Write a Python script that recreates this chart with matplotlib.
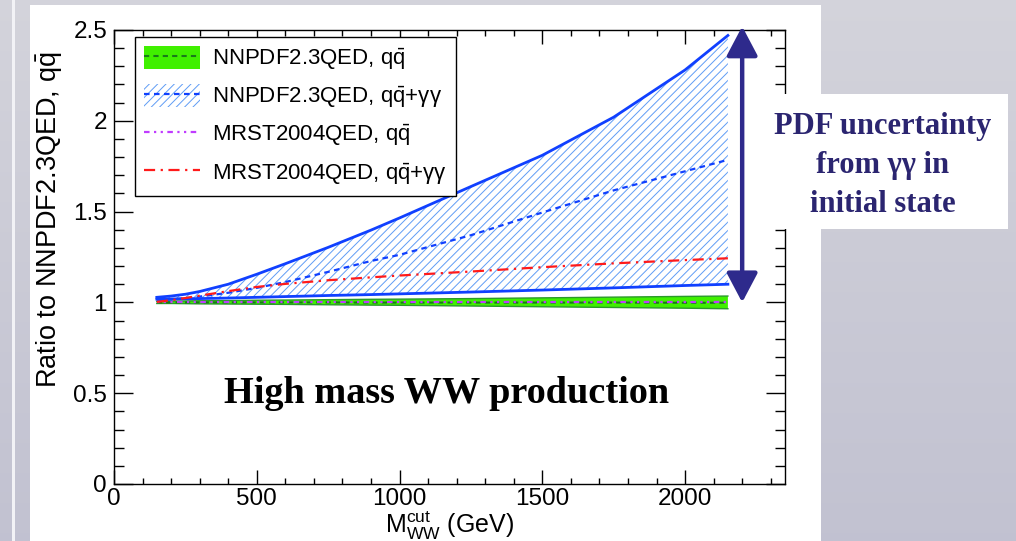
import matplotlib
matplotlib.use("Agg")
import matplotlib.pyplot as plt
import numpy as np
from matplotlib.patches import Rectangle, Patch
from matplotlib.lines import Line2D

plt.rcParams['font.family'] = ['Liberation Sans', 'DejaVu Sans']
plt.rcParams['mathtext.fontset'] = 'custom'
plt.rcParams['mathtext.rm'] = 'Liberation Sans'
plt.rcParams['mathtext.it'] = 'Liberation Sans:italic'
plt.rcParams['mathtext.bf'] = 'Liberation Sans:bold'
plt.rcParams['hatch.linewidth'] = 0.7

# ---------------- data ----------------
mww = [150, 200, 250, 300, 400, 500, 600, 750, 900, 1000, 1250, 1500, 1750, 2000, 2150]
nn_qq_central = [1.000, 1.000, 1.000, 1.000, 1.000, 1.000, 1.000, 1.000, 0.999, 0.999, 0.999, 0.999, 0.999, 0.998, 0.998]
nn_qq_up = [1.006, 1.007, 1.008, 1.009, 1.010, 1.012, 1.013, 1.015, 1.017, 1.018, 1.021, 1.025, 1.029, 1.033, 1.035]
nn_qq_dn = [0.994, 0.994, 0.993, 0.992, 0.991, 0.990, 0.989, 0.987, 0.985, 0.984, 0.980, 0.976, 0.972, 0.968, 0.965]
nn_gg_central = [1.010, 1.016, 1.023, 1.032, 1.053, 1.080, 1.112, 1.168, 1.228, 1.262, 1.370, 1.495, 1.617, 1.722, 1.785]
nn_gg_up = [1.028, 1.035, 1.045, 1.060, 1.100, 1.155, 1.213, 1.303, 1.398, 1.465, 1.638, 1.810, 2.020, 2.280, 2.470]
nn_gg_dn = [1.018, 1.019, 1.020, 1.021, 1.024, 1.028, 1.032, 1.038, 1.043, 1.047, 1.057, 1.068, 1.080, 1.093, 1.100]
mrst_qq = [1.000, 1.000, 1.000, 1.000, 1.000, 1.000, 1.000, 1.000, 1.000, 1.000, 1.000, 1.000, 1.000, 1.000, 1.000]
mrst_gg = [1.003, 1.012, 1.024, 1.037, 1.062, 1.085, 1.102, 1.122, 1.138, 1.148, 1.170, 1.194, 1.215, 1.233, 1.243]

legend_labels = ['NNPDF2.3QED, $\\mathrm{q\\bar{q}}$',
                 'NNPDF2.3QED, $\\mathrm{q\\bar{q}}$+γγ',
                 'MRST2004QED, $\\mathrm{q\\bar{q}}$',
                 'MRST2004QED, $\\mathrm{q\\bar{q}}$+γγ']
xticks = [0, 500, 1000, 1500, 2000]
xticklabels = ['0', '500', '1000', '1500', '2000']
yticks = [0, 0.5, 1, 1.5, 2, 2.5]
yticklabels = ['0', '0.5', '1', '1.5', '2', '2.5']
arrow_x = 2200
arrow_span = (1.0, 2.52)
note_lines = ['PDF uncertainty', 'from γγ in', 'initial state']

# ---------------- colours ----------------
c_blue = '#1040ff'
c_hatch = '#5f9cf5'
c_green = '#40f000'
c_green_edge = '#2a9a2a'
c_green_line = '#1a7a1a'
c_red = '#ff1a1a'
c_mag = '#c03cff'
c_navy = '#2e2a8c'
c_text = '#2b2570'

W, H = 1016, 541
fig = plt.figure(figsize=(W / 100, H / 100), dpi=100)

# background
bg = fig.add_axes([0, 0, 1, 1], zorder=-10)
top = np.array([0.83, 0.83, 0.86])
bot = np.array([0.76, 0.76, 0.82])
t = np.linspace(0, 1, 200)[:, None, None]
grad = top * (1 - t) + bot * t
bg.imshow(grad, extent=[0, W, H, 0], aspect='auto', origin='upper')
bg.add_patch(Rectangle((12, 0), 3, H, color='#f2f2f6', lw=0))
bg.add_patch(Rectangle((30, 5), 821 - 30, H - 5, color='white', lw=0))
bg.set_xlim(0, W)
bg.set_ylim(H, 0)
bg.axis('off')

# main axes
ax = fig.add_axes([114 / W, 57 / H, (785 - 114) / W, (484 - 30) / H])
ax.set_facecolor('white')

ax.fill_between(mww, nn_gg_dn, nn_gg_up, facecolor='none', edgecolor=c_hatch,
                hatch='////', linewidth=0, zorder=1)
ax.plot(mww, nn_gg_up, color=c_blue, lw=2, zorder=3)
ax.plot(mww, nn_gg_dn, color=c_blue, lw=2, zorder=3)
ax.plot(mww, nn_gg_central, color=c_blue, lw=1.6, ls=(0, (2.5, 2)), zorder=3)
ax.fill_between(mww, nn_qq_dn, nn_qq_up, facecolor=c_green, edgecolor='none', zorder=2)
ax.plot(mww, nn_qq_up, color=c_green_edge, lw=1, zorder=2.5)
ax.plot(mww, nn_qq_dn, color=c_green_edge, lw=1, zorder=2.5)
ax.plot(mww, nn_qq_central, color=c_green_line, lw=1.5, ls=(0, (2.5, 2)), zorder=3)
ax.plot(mww, mrst_qq, color=c_mag, lw=1.6, ls=(1.5, (2.5, 2, 1, 2, 1, 2)), zorder=4)
ax.plot(mww, mrst_gg, color=c_red, lw=1.6, ls=(0, (5, 2.5, 1, 2.5)), zorder=4)

ax.set_xlim(0, 2350)
ax.set_ylim(0, 2.5)
ax.set_xticks(xticks, xticklabels)
ax.set_yticks(yticks, yticklabels)
ax.set_xticks(np.arange(0, 2351, 100), minor=True)
ax.set_yticks(np.arange(0, 2.51, 0.1), minor=True)
ax.tick_params(which='both', direction='in', top=True, right=True, width=1,
               labelsize=17.5, color='black')
ax.tick_params(axis='y', which='major', length=13.7, pad=5)
ax.tick_params(axis='y', which='minor', length=7.2)
ax.tick_params(axis='x', which='major', length=10, pad=3)
ax.tick_params(axis='x', which='minor', length=4.5)
for s in ax.spines.values():
    s.set_linewidth(1.0)

ax.text(-0.096, 0.952, 'Ratio to NNPDF2.3QED, $\\mathrm{q\\bar{q}}$', rotation=90,
        transform=ax.transAxes, ha='center', va='top', fontsize=19.5)
ax.text(0.5, -0.055, 'M$_{\\mathrm{WW}}^{\\mathrm{cut}}$ (GeV)', transform=ax.transAxes,
        ha='center', va='top', fontsize=18)

# legend
handles = [
    (Patch(facecolor=c_green, edgecolor='none'), Line2D([], [], color=c_green_line, lw=1.5, ls=(0, (2.5, 2)))),
    (Patch(facecolor='white', edgecolor=c_hatch, hatch='////', lw=0), Line2D([], [], color=c_blue, lw=1.6, ls=(0, (2.5, 2)))),
    Line2D([], [], color=c_mag, lw=1.6, ls=(0, (2.5, 2, 1, 2, 1, 2))),
    Line2D([], [], color=c_red, lw=1.6, ls=(0, (5, 2.5, 1, 2.5))),
]
leg = ax.legend(handles, legend_labels, loc='upper left', bbox_to_anchor=(0.0313, 0.9846),
                borderaxespad=0, fontsize=16, frameon=True, fancybox=False,
                edgecolor='black', framealpha=1, handlelength=2.5, handleheight=1.2,
                handletextpad=0.55, labelspacing=0.55, borderpad=0.42)
leg.get_frame().set_linewidth(1.0)
leg.set_zorder(6)

# annotations
ax.annotate('', xy=(arrow_x, arrow_span[1]), xytext=(arrow_x, arrow_span[0]),
            arrowprops=dict(arrowstyle='<|-|>,head_length=1.8,head_width=0.95',
                            color=c_navy, lw=3.2, shrinkA=0, shrinkB=0, mutation_scale=10),
            annotation_clip=False, zorder=7)
ax.text(0.495, 0.178, 'High mass WW production', transform=ax.transAxes, ha='center',
        va='baseline', fontsize=27.5, fontweight='bold', family='Liberation Serif')

# white note box covering the right frame, with the note text
fig.add_artist(Rectangle((760 / W, 1 - 229 / H), (1008 - 760) / W, (229 - 94) / H,
                         transform=fig.transFigure, facecolor='white', edgecolor='none',
                         zorder=5))
for i, line in enumerate(note_lines):
    fig.text(883 / W, 1 - (134 + 39 * i) / H, line, ha='center', va='baseline',
             fontsize=22, fontweight='bold', family='Liberation Serif', color=c_text,
             zorder=6)

fig.savefig('out.png', dpi=100)
